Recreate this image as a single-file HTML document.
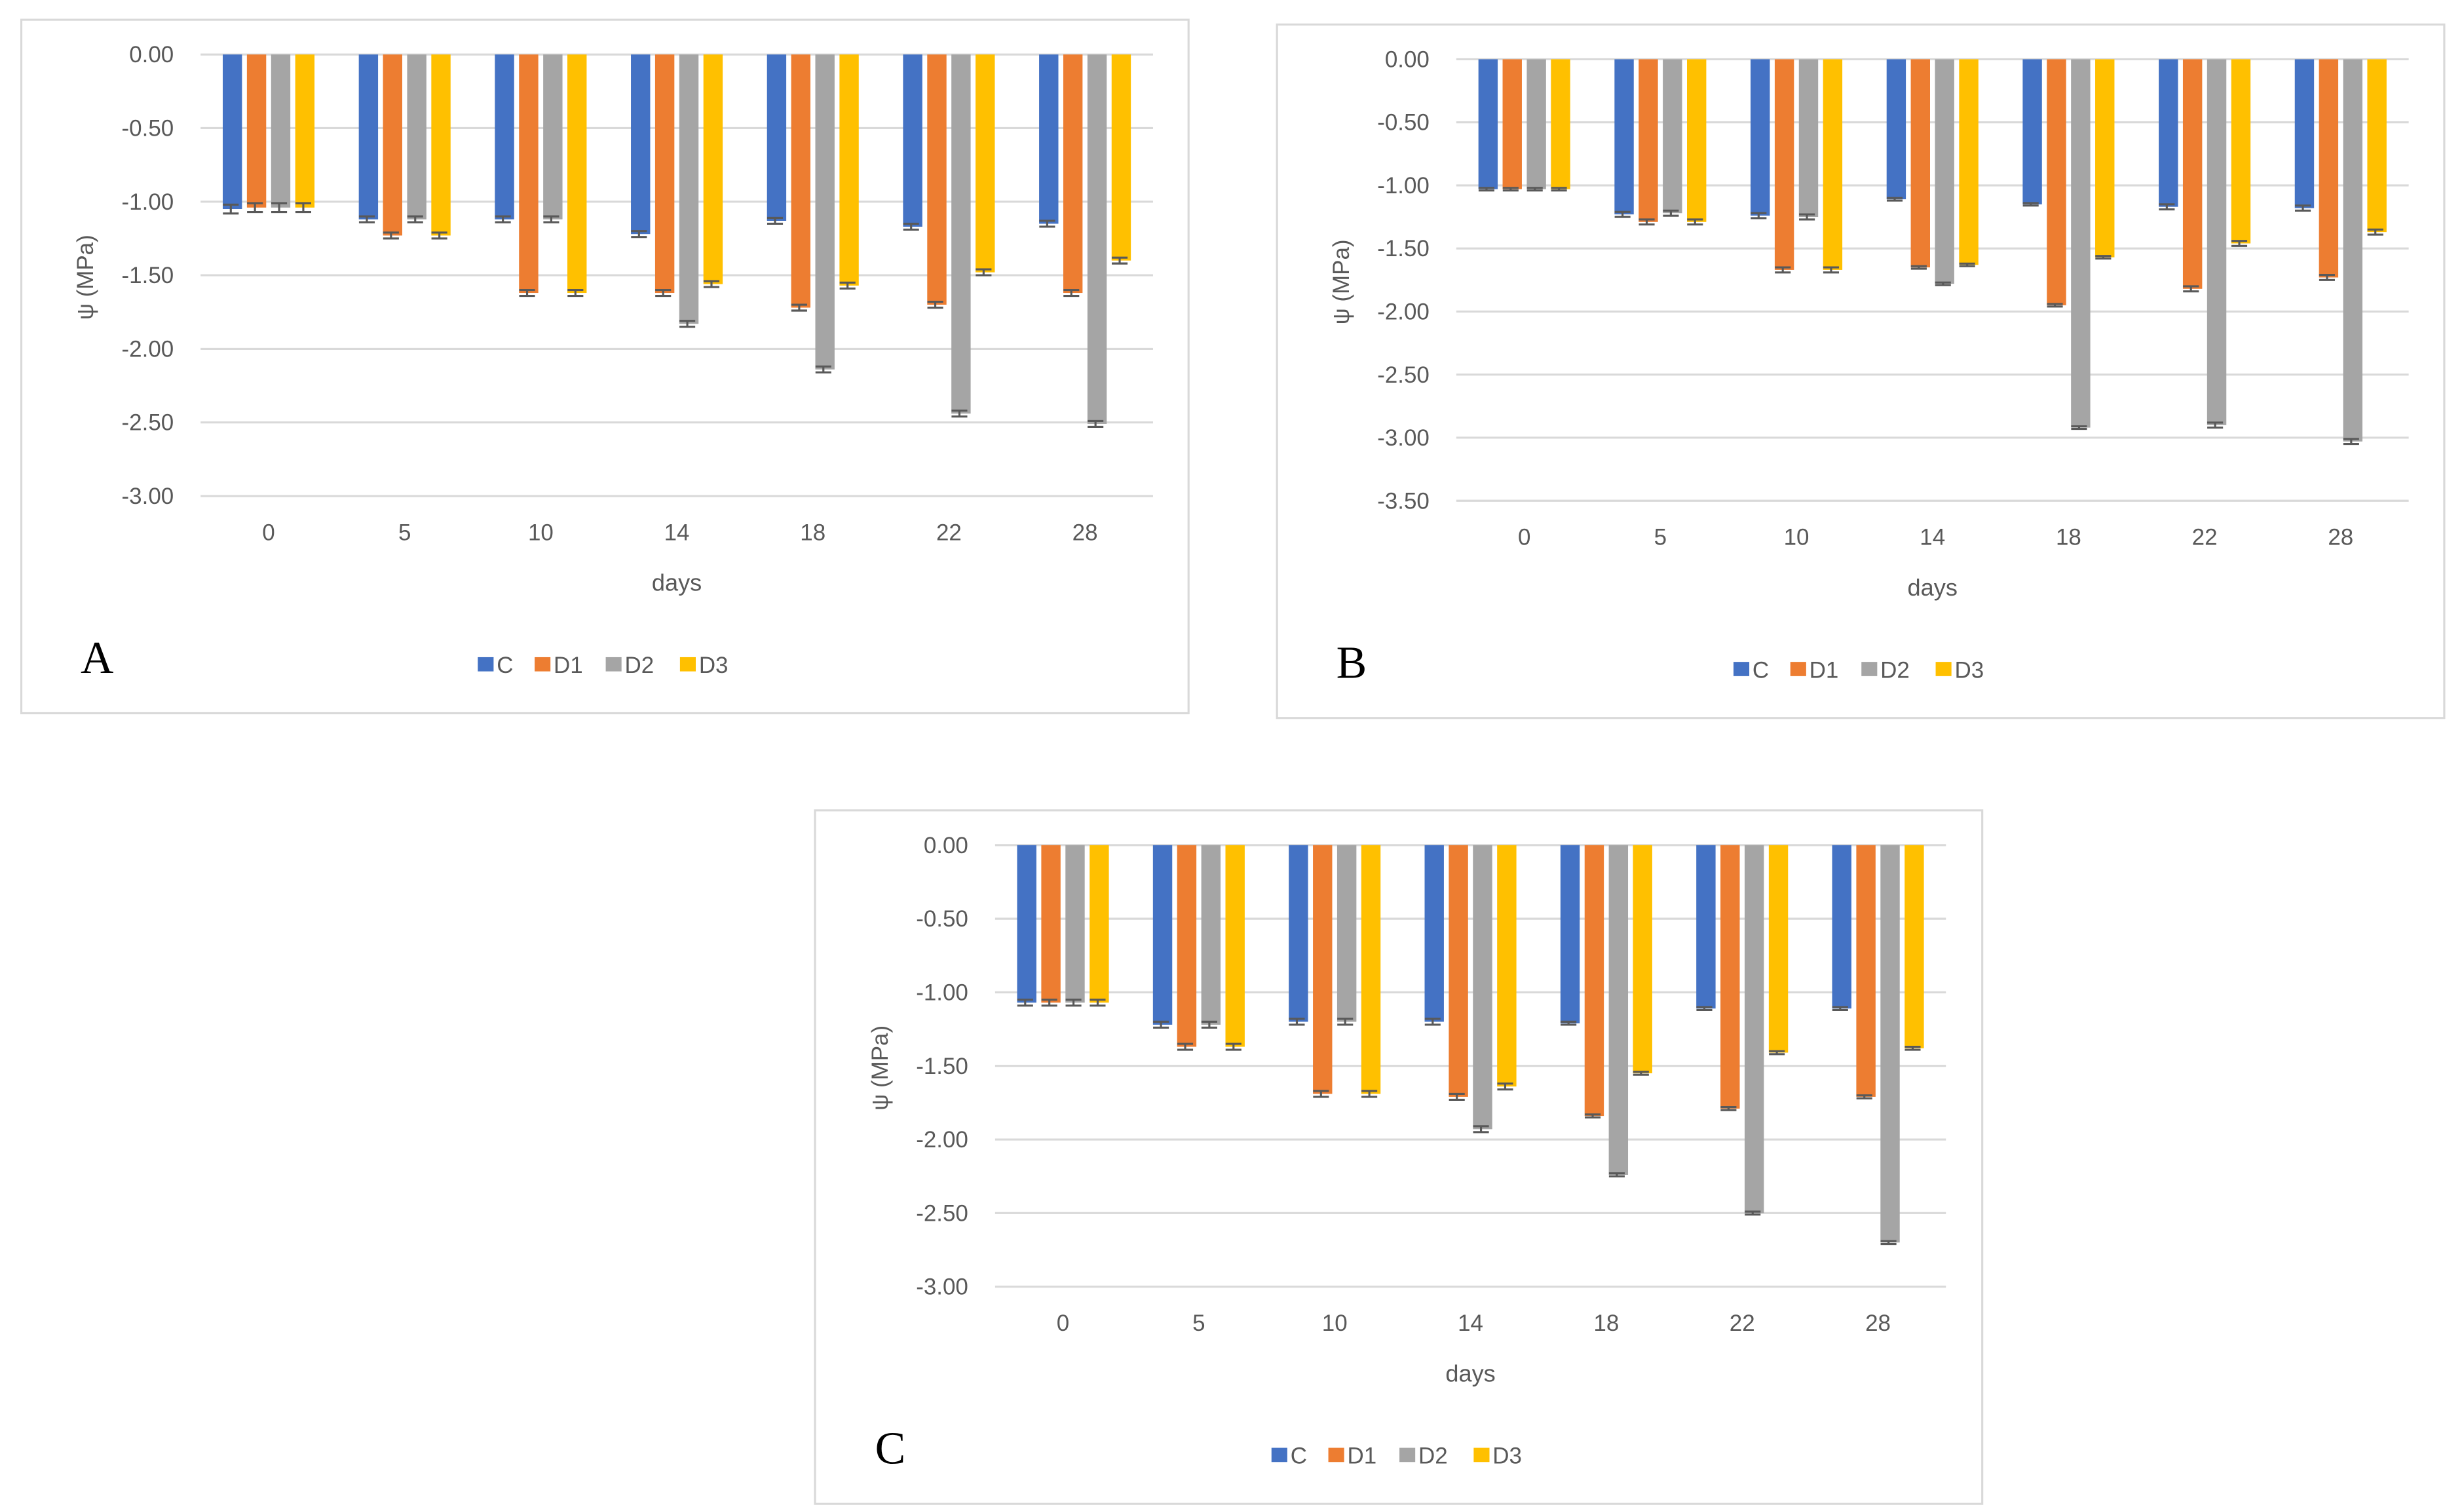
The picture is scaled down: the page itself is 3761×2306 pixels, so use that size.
<!DOCTYPE html>
<html><head><meta charset="utf-8">
<style>
html,body{margin:0;padding:0;background:#fff;}
svg{display:block;}
text{font-family:"Liberation Sans",sans-serif;fill:#595959;}
</style></head>
<body>
<svg id="fig" width="3761" height="2306" viewBox="0 0 1560 956.5" preserveAspectRatio="none" xmlns="http://www.w3.org/2000/svg"></svg>
<script>
const categories = ["0","5","10","14","18","22","28"];
const seriesNames = ["C","D1","D2","D3"];
const colors = ["#4472C4","#ED7D31","#A5A5A5","#FFC000"];

const A_C  = [-1.05,-1.12,-1.12,-1.22,-1.13,-1.17,-1.15];
const A_D1 = [-1.04,-1.23,-1.62,-1.62,-1.72,-1.70,-1.62];
const A_D2 = [-1.04,-1.12,-1.12,-1.83,-2.14,-2.44,-2.51];
const A_D3 = [-1.04,-1.23,-1.62,-1.56,-1.57,-1.48,-1.40];
const A_err = [0.03,0.02,0.02,0.02,0.02,0.02,0.02];
const A_ticks = ["0.00","-0.50","-1.00","-1.50","-2.00","-2.50","-3.00"];

const B_C  = [-1.03,-1.23,-1.24,-1.11,-1.15,-1.17,-1.18];
const B_D1 = [-1.03,-1.29,-1.67,-1.65,-1.95,-1.82,-1.73];
const B_D2 = [-1.03,-1.22,-1.25,-1.78,-2.92,-2.90,-3.03];
const B_D3 = [-1.03,-1.29,-1.67,-1.63,-1.57,-1.46,-1.37];
const B_err = [0.01,0.02,0.02,0.01,0.01,0.02,0.02];
const B_ticks = ["0.00","-0.50","-1.00","-1.50","-2.00","-2.50","-3.00","-3.50"];

const C_C  = [-1.07,-1.22,-1.20,-1.20,-1.21,-1.11,-1.11];
const C_D1 = [-1.07,-1.37,-1.69,-1.71,-1.84,-1.79,-1.71];
const C_D2 = [-1.07,-1.22,-1.20,-1.93,-2.24,-2.50,-2.70];
const C_D3 = [-1.07,-1.37,-1.69,-1.64,-1.55,-1.41,-1.38];
const C_err = [0.02,0.02,0.02,0.02,0.01,0.01,0.01];
const C_ticks = ["0.00","-0.50","-1.00","-1.50","-2.00","-2.50","-3.00"];

const NS = "http://www.w3.org/2000/svg";
const svg = document.getElementById('fig');
function mk(tag, attrs, parent){
  const e = document.createElementNS(NS, tag);
  for (const k in attrs) e.setAttribute(k, attrs[k]);
  (parent||svg).appendChild(e);
  return e;
}

function panel(cfg){
  const g = mk('g', {});
  
  
  const box = mk('rect', {x:cfg.bx, y:cfg.by, width:cfg.bw, height:cfg.bh, fill:'#fff', stroke:'#d9d9d9', 'stroke-width':1.3}, g);
  
  
  const L = cfg.left, R = cfg.right, T = cfg.top, Bt = cfg.bottom;
  const ymin = cfg.ymin;
  const yS = v => T + (v / ymin) * (Bt - T);
  const band = (R - L) / categories.length;
  const xS = i => L + band * (i + 0.5);
  cfg.ticks.forEach(t => {
    const v = parseFloat(t);
    const ln = mk('line', {x1:L, x2:R, y1:yS(v), y2:yS(v), stroke:'#d9d9d9', 'stroke-width':1.3}, g);
    
    
    const tx = mk('text', {x:L-17, y:yS(v)+5, 'text-anchor':'end', 'font-size':14.5}, g);
    tx.textContent = t;
    
    
  });
  const pitch = 15.3, bw = 12.2;
  cfg.series.forEach((arr, s) => {
    arr.forEach((v, i) => {
      const cx = xS(i) + (s - 1.5) * pitch;
      const r = mk('rect', {x:cx-bw/2, y:yS(0), width:bw, height:yS(v)-yS(0), fill:colors[s]}, g);
      
      
      const e = cfg.err[i];
      const y1 = yS(v - e), y2 = yS(v + e);
      const ex = cx - 1;
      const eb = mk('path', {d:`M${ex-5},${y1}H${ex+5}M${ex-5},${y2}H${ex+5}M${ex},${y1}V${y2}`, stroke:'#595959', 'stroke-width':1.3, fill:'none'}, g);
      
      
    });
  });
  categories.forEach((c, i) => {
    const tx = mk('text', {x:xS(i), y:Bt+28, 'text-anchor':'middle', 'font-size':14.5}, g);
    tx.textContent = c;
    
    
  });
  const xt = mk('text', {x:(L+R)/2, y:Bt+60, 'text-anchor':'middle', 'font-size':15}, g);
  xt.textContent = 'days';
  
  
  const yt = mk('text', {x:0, y:0, 'text-anchor':'middle', 'font-size':14.5, transform:`translate(${L-68},${T+141}) rotate(-90)`}, g);
  yt.textContent = 'ψ (MPa)';
  
  
  const lc = (L+R)/2;
  const offs = [-126, -90, -45, 2];
  seriesNames.forEach((n, s) => {
    const lg = mk('g', {}, g);
    
    
    mk('rect', {x:lc+offs[s], y:Bt+102, width:10, height:9, fill:colors[s]}, lg);
    const t = mk('text', {x:lc+offs[s]+12, y:Bt+112, 'font-size':14.5}, lg);
    t.textContent = n;
  });
  const let_ = mk('text', {x:L-76, y:Bt+112, 'font-size':29, style:'font-family:"Liberation Serif",serif;fill:#000'}, g);
  let_.textContent = cfg.letter;
  
  
}

panel({letter:'A', bx:13.5, by:12.5, bw:739, bh:439, left:127, right:730, top:34.5, bottom:314, ymin:-3.0,
  ticks:A_ticks, series:[A_C,A_D1,A_D2,A_D3], err:A_err});
panel({letter:'B', bx:808.5, by:15.5, bw:739, bh:439, left:922, right:1525, top:37.5, bottom:317, ymin:-3.5,
  ticks:B_ticks, series:[B_C,B_D1,B_D2,B_D3], err:B_err});
panel({letter:'C', bx:516, by:513, bw:739, bh:439, left:630, right:1232, top:535, bottom:814.5, ymin:-3.0,
  ticks:C_ticks, series:[C_C,C_D1,C_D2,C_D3], err:C_err});
</script>
</body></html>
